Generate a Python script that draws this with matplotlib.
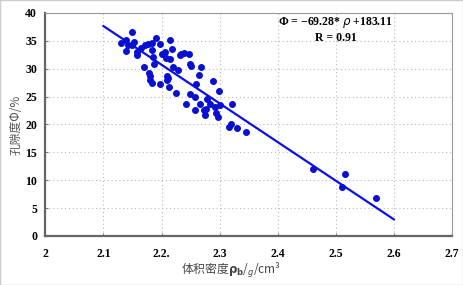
import numpy as np
import matplotlib
matplotlib.use('Agg')
import matplotlib.pyplot as plt

# 体积密度 (g/cm3) 与 孔隙度 (%)
rho = [2.130, 2.139, 2.139, 2.142, 2.149, 2.150, 2.153, 2.157, 2.158, 2.165,
       2.169, 2.172, 2.177, 2.179, 2.180, 2.181, 2.184, 2.183, 2.184, 2.186,
       2.187, 2.190, 2.197, 2.198, 2.200, 2.202, 2.206, 2.208, 2.209, 2.210,
       2.212, 2.213, 2.214, 2.215, 2.218, 2.219, 2.225, 2.228, 2.231, 2.234,
       2.239, 2.242, 2.247, 2.249, 2.250, 2.249, 2.257, 2.257, 2.259, 2.264,
       2.267, 2.268, 2.273, 2.275, 2.277, 2.279, 2.284, 2.289, 2.292, 2.294,
       2.298, 2.299, 2.300, 2.321, 2.317, 2.320, 2.330, 2.345,
       2.461, 2.516, 2.510, 2.569]
phi = [34.6, 35.1, 33.1, 34.3, 36.5, 34.3, 34.7, 33.0, 32.5, 33.7,
       30.3, 34.2, 34.5, 29.3, 28.6, 28.0, 27.5, 34.6, 33.4, 32.0,
       30.9, 35.4, 27.3, 34.5, 32.6, 32.7, 33.0, 31.9, 28.0, 28.7,
       28.3, 26.7, 35.2, 31.7, 33.5, 30.3, 25.6, 29.7, 32.4, 32.6,
       32.8, 23.7, 32.7, 30.9, 30.4, 25.5, 25.0, 22.5, 27.2, 28.8,
       23.7, 30.2, 22.6, 21.7, 22.8, 24.6, 23.6, 27.8, 23.1, 22.1,
       21.3, 26.0, 23.4, 23.6, 19.6, 20.1, 19.3, 18.7,
       12.0, 11.1, 8.8, 6.8]

# 拟合线
slope, intercept = -69.28, 183.11
fit_x = np.array([2.1, 2.6])

xticks = [2.0, 2.1, 2.2, 2.3, 2.4, 2.5, 2.6, 2.7]
xlabels = ['2', '2.1', '2.2.', '2.3', '2.4', '2.5', '2.6', '2.7']
yticks = [0, 5, 10, 15, 20, 25, 30, 35, 40]

fig = plt.figure(figsize=(4.63, 2.85), dpi=100)
ax = fig.add_axes([0.098, 0.172, 0.878, 0.783])

ax.scatter(rho, phi, s=16, color='#0a10d0', zorder=3)
ax.plot(fit_x, slope * fit_x + intercept, color='#0a10e6', lw=1.6, zorder=2)

ax.set_xlim(2.0, 2.7)
ax.set_ylim(0, 40)
ax.set_xticks(xticks)
ax.set_xticklabels(xlabels)
ax.set_yticks(yticks)
for lab in ax.get_xticklabels() + ax.get_yticklabels():
    lab.set_fontfamily('Liberation Serif')
    lab.set_fontweight('bold')
    lab.set_fontsize(8.5)
ax.tick_params(direction='in', length=2, color='#777777', pad=6)
ax.tick_params(axis='x', pad=9)

ax.grid(True, linestyle=(0, (1, 2.5)), color='#bbbbbb', lw=0.8)
for side in ['top', 'right']:
    ax.spines[side].set_color('#999999')
    ax.spines[side].set_linewidth(0.8)
for side in ['left', 'bottom']:
    ax.spines[side].set_color('#666666')
    ax.spines[side].set_linewidth(1.6)

ax.text(2.5, 38.2, 'Φ = −69.28* $\\rho$ +183.11', ha='center', va='center',
        fontfamily='Liberation Serif', fontweight='bold', fontsize=8.5)
ax.text(2.5, 35.5, 'R = 0.91', ha='center', va='center',
        fontfamily='Liberation Serif', fontweight='bold', fontsize=8.5)

ax.set_ylabel('孔隙度Φ/%', fontfamily=['Noto Sans CJK SC', 'DejaVu Sans'],
              fontsize=8.5, color='#555555', labelpad=2)
fig.text(0.50, 0.05, '体积密度$\\mathbf{\\rho_b}$/$_g$/cm³',
         ha='center', va='center', fontfamily=['Noto Sans CJK SC', 'DejaVu Sans'],
         fontsize=8.5, color='#444444')

fig.patches.append(plt.Rectangle((0, 0), 1, 1, transform=fig.transFigure,
                                 fill=False, edgecolor='#cccccc', lw=1))

plt.savefig('out.png', dpi=100)
